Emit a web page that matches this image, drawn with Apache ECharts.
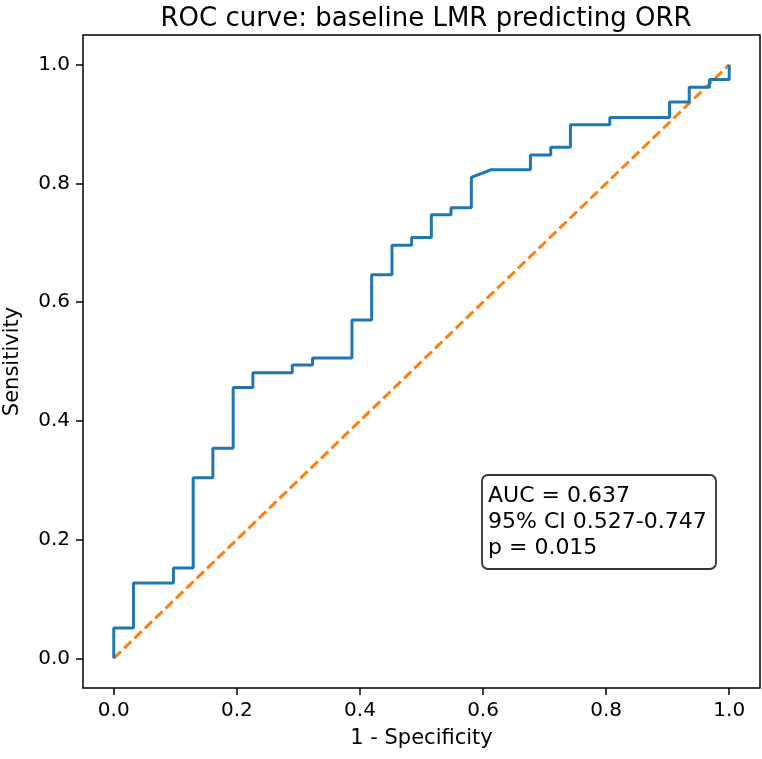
<!DOCTYPE html>
<html>
<head>
    <meta charset="utf-8">
    <title>ROC curve</title>
    <script src="https://cdn.jsdelivr.net/npm/echarts@6/dist/echarts.min.js"></script>
    <style>
        html, body { margin: 0; padding: 0; background: #fff; }
        #chart1 { width: 762px; height: 759px; }
    </style>
</head>
<body>
<div id="chart1"></div>
<script type="text/javascript">
// ROC 曲线的点 (1 - specificity, sensitivity)
var fpr = [0, 0, 0.032, 0.032, 0.097, 0.097, 0.129, 0.129, 0.161, 0.161, 0.194, 0.194,
    0.226, 0.226, 0.290, 0.290, 0.323, 0.323, 0.387, 0.387, 0.419, 0.419, 0.452, 0.452,
    0.484, 0.484, 0.516, 0.516, 0.548, 0.548, 0.581, 0.581, 0.613, 0.677, 0.677, 0.710,
    0.710, 0.742, 0.742, 0.806, 0.806, 0.903, 0.903, 0.935, 0.935, 0.968, 0.968, 1.0, 1.0];
var tpr = [0, 0.051, 0.051, 0.127, 0.127, 0.152, 0.152, 0.304, 0.304, 0.354, 0.354, 0.456,
    0.456, 0.481, 0.481, 0.494, 0.494, 0.506, 0.506, 0.570, 0.570, 0.646, 0.646, 0.696,
    0.696, 0.709, 0.709, 0.747, 0.747, 0.759, 0.759, 0.810, 0.823, 0.823, 0.848, 0.848,
    0.861, 0.861, 0.899, 0.899, 0.911, 0.911, 0.937, 0.937, 0.962, 0.962, 0.975, 0.975, 1.0];
var chanceX = [0, 1];
var chanceY = [0, 1];
var tickValues = [0, 0.2, 0.4, 0.6, 0.8, 1.0];
var statLines = ['AUC = 0.637', '95% CI 0.527-0.747', 'p = 0.015'];

var rocData = fpr.map(function (x, i) { return [x, tpr[i]]; });
var chanceData = chanceX.map(function (x, i) { return [x, chanceY[i]]; });

var font = 'DejaVu Sans';
var myChart1 = echarts.init(document.getElementById('chart1'));

function axisCfg(name, gap, rotate) {
    return {
        type: 'value',
        min: -0.05,
        max: 1.05,
        name: name,
        nameLocation: 'middle',
        nameGap: gap,
        nameRotate: rotate,
        nameTextStyle: { color: '#000', fontSize: 21, fontFamily: font },
        splitLine: { show: false },
        axisLine: { show: false, onZero: false },
        axisTick: {
            show: true, inside: false, length: 7,
            lineStyle: { color: '#000', width: 1.5 },
            customValues: tickValues
        },
        axisLabel: {
            color: '#000', fontSize: 20, fontFamily: font, margin: 13,
            customValues: tickValues,
            formatter: function (v) { return v.toFixed(1); }
        }
    };
}

myChart1.setOption({
    animation: false,
    backgroundColor: '#fff',
    title: [{
        text: 'ROC curve: baseline LMR predicting ORR',
        left: 421, top: 1, textAlign: 'center',
        textStyle: { color: '#000', fontSize: 26, fontWeight: 'normal', fontFamily: font }
    }, {
        text: statLines.join('\n'),
        left: 482, top: 475,
        padding: [8, 10, 8, 6],
        backgroundColor: '#fff',
        borderColor: '#333',
        borderWidth: 1.8,
        borderRadius: 6,
        textStyle: { color: '#000', fontSize: 22, fontWeight: 'normal', fontFamily: font, lineHeight: 26 }
    }],
    grid: {
        left: 83, right: 2, top: 35, bottom: 71,
        show: true, borderColor: '#000', borderWidth: 1.5,
        containLabel: false,
        outerBoundsMode: 'none'
    },
    xAxis: axisCfg('1 - Specificity', 40, 0),
    yAxis: axisCfg('Sensitivity', 60, 90),
    series: [{
        name: 'ROC',
        type: 'line',
        data: rocData,
        showSymbol: false,
        lineStyle: { color: '#1f77b4', width: 3 },
        z: 3
    }, {
        name: 'chance',
        type: 'line',
        data: chanceData,
        showSymbol: false,
        lineStyle: { color: '#ff7f0e', width: 3, type: [10, 4.4] },
        z: 2
    }]
});
</script>
</body>
</html>
